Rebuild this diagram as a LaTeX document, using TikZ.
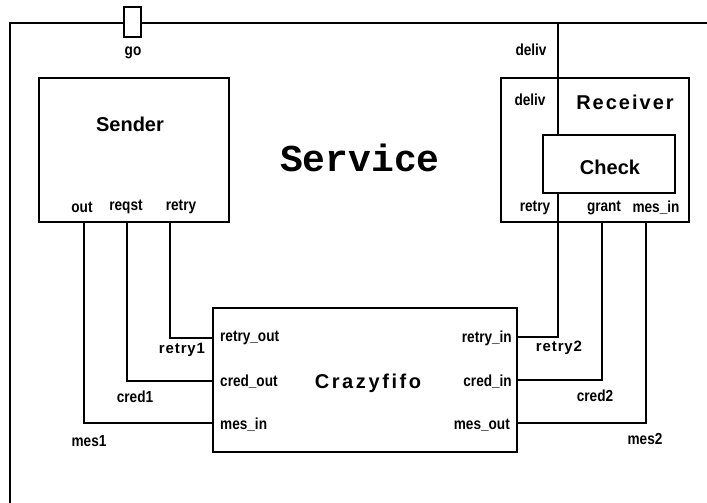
\documentclass[tikz,border=0pt]{standalone}
\usepackage{fontspec}
\setmainfont{Liberation Sans}
\newfontfamily\narrowf[FakeStretch=0.85]{Liberation Sans}
\newfontfamily\spacedf[LetterSpace=13]{Liberation Sans}
\newfontfamily\recvf[LetterSpace=10]{Liberation Sans}
\newfontfamily\wiref[LetterSpace=6]{Liberation Sans}
\newfontfamily\monof{Liberation Mono}
\begin{document}
\begin{tikzpicture}[x=1pt,y=-1pt,
  box/.style={draw,line width=2.3pt,fill=white,inner sep=0pt},
  wire/.style={line width=1.9pt},
  thinwire/.style={line width=1.3pt},
  port/.style={font=\narrowf\bfseries\fontsize{16}{16}\selectfont,inner sep=0pt},
  wlabel/.style={font=\wiref\bfseries\fontsize{15}{15}\selectfont,inner sep=0pt},
  title/.style={font=\bfseries\fontsize{20}{20}\selectfont,inner sep=0pt},
  stitle/.style={font=\spacedf\bfseries\fontsize{20}{20}\selectfont,inner sep=0pt}]
\useasboundingbox (0,0) rectangle (707,503);
\fill[white] (0,0) rectangle (707,503);
% outer frame (Service)
\coordinate (fbl) at (10,503);
\coordinate (ftl) at (10,23);
\coordinate (ftr) at (707,23);
\coordinate (fdeliv) at (558,23);
\draw[line width=2.3pt] (fbl) -- (ftl) -- (ftr);
\node[box,minimum width=17pt,minimum height=30pt] (go) at (132.5,22) {};
\node[port] (golbl) at (133,53) {go};
\node[font=\monof\bfseries\fontsize{38}{38}\selectfont,inner sep=0pt] (service) at (360,158) {Service};
% Sender
\node[box,minimum width=190pt,minimum height=144pt] (sender) at (134,150) {};
\node[title] (senderlbl) at (130,124) {Sender};
\node[port] (sout) at (82,207) {out};
\node[port] (sreqst) at (126,207) {reqst};
\node[port] (sretry) at (181,207) {retry};
\coordinate (ps_out) at (84,222);
\coordinate (ps_reqst) at (127,222);
\coordinate (ps_retry) at (170,222);
% Receiver
\node[box,minimum width=188pt,minimum height=144pt] (receiver) at (595,150) {};
\node[font=\recvf\bfseries\fontsize{20}{20}\selectfont,inner sep=0pt] (receiverlbl) at (625,102) {Receiver};
\node[box,minimum width=132pt,minimum height=58pt] (check) at (609,164) {};
\node[title] (checklbl) at (610,167) {Check};
\node[port] (rdeliv) at (530,100) {deliv};
\node[port] (odeliv) at (531,50) {deliv};
\node[port] (rretry) at (535,208) {retry};
\node[port] (rgrant) at (604,208) {grant};
\node[port] (rmesin) at (656,208) {mes\_in};
\coordinate (pc_top) at (558,135);
\coordinate (pc_bot) at (558,193);
\coordinate (pr_retry) at (558,222);
\coordinate (pr_grant) at (602,222);
\coordinate (pr_mesin) at (646,222);
% Crazyfifo
\node[box,minimum width=304pt,minimum height=144pt] (fifo) at (365,380) {};
\node[stitle] (fifolbl) at (368,383) {Crazyfifo};
\node[port,anchor=west] (fretryout) at (220,338) {retry\_out};
\node[port,anchor=west] (fcredout) at (220,382) {cred\_out};
\node[port,anchor=west] (fmesin) at (220,425) {mes\_in};
\node[port,anchor=east] (fretryin) at (512,338) {retry\_in};
\node[port,anchor=east] (fcredin) at (512,382) {cred\_in};
\node[port,anchor=east] (fmesout) at (510,425) {mes\_out};
\coordinate (pf_retryout) at (213,338);
\coordinate (pf_credout) at (213,381);
\coordinate (pf_mesin) at (213,423);
\coordinate (pf_retryin) at (517,337);
\coordinate (pf_credin) at (517,380);
\coordinate (pf_mesout) at (517,423);
% wires
\draw[wire] (fdeliv) -- (pc_top);
\draw[thinwire] (pc_bot) -- (pr_retry);
\draw[wire] (ps_retry) |- (pf_retryout);
\draw[wire] (ps_reqst) |- (pf_credout);
\draw[wire] (ps_out) |- (pf_mesin);
\draw[wire] (pr_retry) |- (pf_retryin);
\draw[wire] (pr_grant) |- (pf_credin);
\draw[wire] (pr_mesin) |- (pf_mesout);
% wire labels
\node[wlabel] (lretry1) at (182,350) {retry1};
\node[port] (lcred1) at (135,397) {cred1};
\node[port] (lmes1) at (89,441) {mes1};
\node[wlabel] (lretry2) at (559,348) {retry2};
\node[port] (lcred2) at (595,396) {cred2};
\node[port] (lmes2) at (645,439) {mes2};
\end{tikzpicture}
\end{document}
